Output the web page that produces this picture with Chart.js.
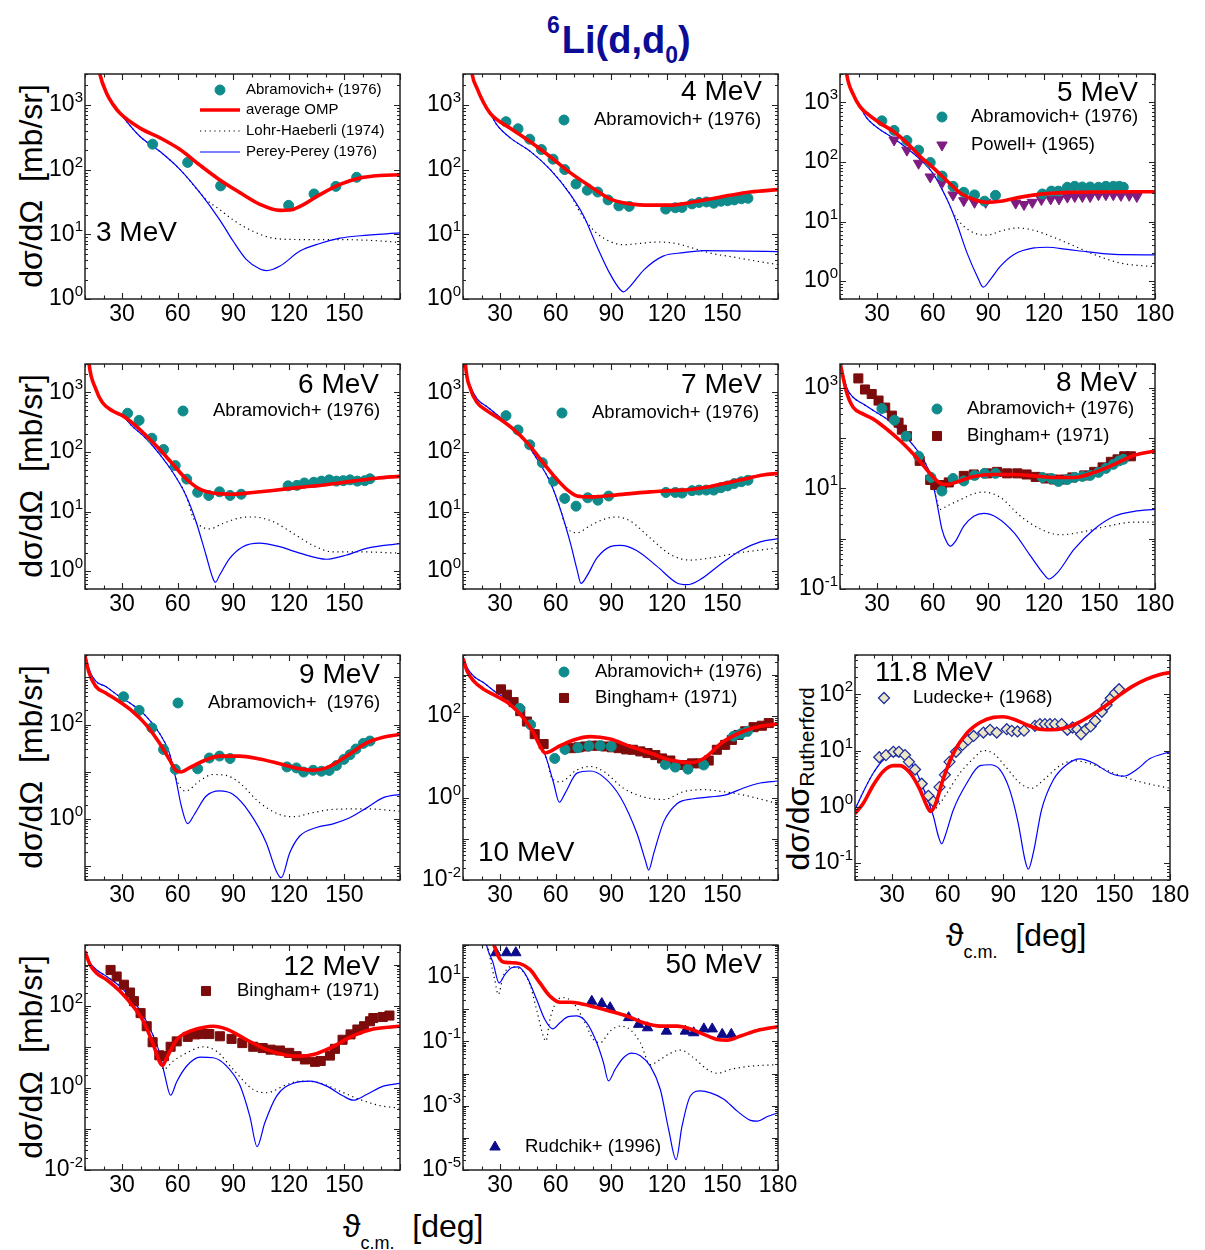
<!DOCTYPE html>
<html>
<head>
<meta charset="utf-8">
<title>6Li(d,d0) elastic scattering</title>
<script src="https://cdn.jsdelivr.net/npm/chart.js@4/dist/chart.umd.min.js"></script>
<style>
  body { margin: 0; background: #fff; }
  #page { position: relative; width: 1205px; height: 1250px; overflow: hidden; font-family: "Liberation Sans", Arial, sans-serif; color: #000; }
  .pane { position: absolute; }
  .title { position: absolute; left: 547px; top: 21px; font-weight: bold; font-size: 38px; line-height: 38px; color: #0c0c96; white-space: nowrap; }
  .title .sup { font-size: 23px; position: relative; top: -20px; margin-right: 2px; }
  .title .sub { font-size: 23px; position: relative; top: 10px; }
  .ytitle { position: absolute; width: 300px; height: 36px; line-height: 36px; font-size: 32px; text-align: center; white-space: pre; transform: rotate(-90deg); }
  .ytitle .sub { font-size: 21px; position: relative; top: 5px; }
  .xtitle { position: absolute; height: 36px; line-height: 36px; font-size: 32px; white-space: pre; }
  .xtitle .sub { font-size: 18px; position: relative; top: 12px; }
</style>
</head>
<body>
<div id="page">
  <div class="title"><span class="sup">6</span>Li(d,d<span class="sub">0</span>)</div>

  <div class="ytitle" style="left:-119px; top:168px">dσ/dΩ  [mb/sr]</div>
  <div class="ytitle" style="left:-119px; top:458px">dσ/dΩ  [mb/sr]</div>
  <div class="ytitle" style="left:-119px; top:749px">dσ/dΩ  [mb/sr]</div>
  <div class="ytitle" style="left:-119px; top:1039px">dσ/dΩ  [mb/sr]</div>
  <div class="ytitle" style="left:648px; top:761px">dσ/dσ<span class="sub">Rutherford</span></div>

  <div class="xtitle" style="left:343px; top:1208px">ϑ<span class="sub">c.m.</span>  [deg]</div>
  <div class="xtitle" style="left:946px; top:917px">ϑ<span class="sub">c.m.</span>  [deg]</div>
</div>

<script>
const FONT = '"Liberation Sans", Arial, sans-serif';
Chart.defaults.font.family = FONT;

// [angle (deg), cross section] pairs per energy

// 3 MeV
const omp3 = [[15,9000],[18,3000],[21.7,1500],[25.3,1000],[28.9,740],[39.7,437],[50.5,309],[61.3,204],[72,117],[82.8,69],[93.6,44],[104.4,29],[115.2,23.4],[120.6,23.7],[126,27],[136.8,41],[147.6,59],[158.4,74],[169,81],[180,83]];
const perey3 = [[15,9000],[18,3000],[21.7,1500],[25.3,1000],[28.9,740],[39.7,324],[50.5,190],[61.3,100],[72,44],[82.8,16.6],[90,7.8],[97,4.1],[104.4,2.9],[108,2.75],[115,3.2],[126,5.5],[136.8,7.2],[147.6,8.7],[158.4,9.5],[180,10.5]];
const lohr3 = [[15,9000],[18,3000],[21.7,1500],[25.3,1000],[28.9,740],[39.7,324],[50.5,190],[61.3,100],[72,44],[75.6,34],[82.8,24],[90,16.6],[101,11],[111.6,8.7],[126,8.3],[144,8.3],[162,8.1],[180,7.5]];
const abram3 = [[46.5,247],[65.4,129],[83.2,56],[119.9,28],[133.6,42],[145.4,55],[156.6,76]];

// 4 MeV
const omp4 = [[13,9000],[14.9,3000],[17.6,1800],[21.2,1070],[24.7,740],[28.3,590],[35.5,437],[46.3,269],[57.1,158],[68,89],[78.7,55],[89.5,35],[100.3,29.5],[111,28.2],[122,28.2],[132.7,31],[143.5,35],[154,40],[165,45],[180,49]];
const perey4 = [[13,9000],[14.9,3000],[17.6,1800],[21.2,1070],[24.7,740],[28.3,490],[35.5,309],[46.3,191],[57.1,100],[68,41],[75.2,19],[82.3,6.5],[89.5,2.4],[94.9,1.39],[96.7,1.29],[100.3,1.58],[107.5,2.8],[118,4.6],[129,5.2],[140,5.6],[161,5.5],[180,5.4]];
const lohr4 = [[13,9000],[14.9,3000],[17.6,1800],[21.2,1070],[24.7,740],[28.3,490],[35.5,309],[46.3,191],[57.1,100],[68,41],[72,25],[76,16.6],[82,10.5],[90,7.6],[97,6.9],[105,7.2],[115,7.6],[125,7.2],[135,6.0],[145,5.0],[155,4.5],[165,4.0],[180,3.4]];
const abram4 = [[33.2,550],[39.7,427],[46,295],[52.3,204],[58.6,145],[64.9,100],[71,60],[77.1,48],[82.7,45],[88.3,34],[94.1,27.5],[99.7,27],[119.4,24.5],[124.6,25.7],[128.2,26],[133.6,29.5],[137.4,31],[141.4,31.6],[145.3,30.2],[149.2,32.4],[152.8,33],[156.4,34],[160.2,35.5],[163.8,36]];

// 5 MeV
const omp5 = [[12,9000],[13.6,3000],[17.2,1350],[20.8,850],[24.4,660],[31.7,447],[38.9,324],[46.1,209],[53.3,123],[60.5,79],[67.8,48],[75,30],[82.2,23.4],[89.4,21],[96.6,21.9],[107.5,25.7],[118.3,28.8],[132.7,30.9],[150.8,31.4],[180,31.6]];
const perey5 = [[12,9000],[13.6,3000],[17.2,1350],[20.8,850],[24.4,550],[31.7,347],[38.9,251],[46.1,170],[53.3,110],[60.5,62],[67.8,23.4],[70.5,15],[73.2,9],[78.6,2.95],[84,1.21],[87.3,0.79],[91.2,1.07],[96.6,1.78],[103.9,2.8],[114.7,3.6],[121.9,3.7],[132.7,3.4],[143.6,3.1],[158,2.8],[180,2.75]];
const lohr5 = [[12,9000],[13.6,3000],[17.2,1350],[20.8,850],[24.4,550],[31.7,347],[38.9,251],[46.1,170],[53.3,110],[60.5,62],[67.8,23.4],[71,14],[75,9.5],[80,7],[85.8,6.0],[89.4,5.9],[96.6,6.9],[105.6,7.8],[114.7,7.1],[125.5,5.4],[136.3,3.9],[147,2.8],[161.6,2.0],[180,1.74]];
const abram5 = [[32.6,490],[39.2,339],[46.1,229],[52.4,158],[58.7,98],[65.1,58],[71,39],[76.8,31],[82.6,28],[88,22],[93.9,27.5],[119.2,29],[124.1,32.4],[127.9,32.4],[132.7,37.6],[136.7,39],[140.8,38],[145,38],[149.5,37.6],[153.5,39],[157.5,39],[160.7,39],[162.9,37.6]];
const powell5 = [[39.2,234],[46.1,158],[52.4,95],[58.7,56],[65.1,45],[71,28],[76.8,22.4],[82.6,21],[88.6,21],[104.8,20.4],[109.3,19.3],[113.8,21],[118.7,23.4],[123.7,24],[128.2,24],[132.7,25.7],[136.7,26.3],[140.8,26.3],[145,26.3],[149.5,28.2],[153.5,28.2],[157.5,28.2],[161.6,27.5],[166.1,27.5],[170.2,26.3]];

// 6 MeV
const omp6 = [[11,9000],[12.2,3000],[15.8,1150],[19.4,676],[24.8,490],[30.2,407],[35.6,309],[42.8,191],[50.1,112],[57.3,63],[64.5,35.5],[71.7,24],[79,20.4],[89.8,19.5],[100.6,20.9],[111.4,22.6],[125.9,25.4],[140.3,28.2],[154.8,32.4],[167.4,36.3],[180,39]];
const perey6 = [[11,9000],[12.2,3000],[15.8,1150],[19.4,676],[24.8,490],[30.2,407],[35.6,269],[42.8,170],[50.1,93],[57.3,46],[64.5,18.6],[69.9,6.8],[75.3,1.86],[79,0.76],[80.4,0.65],[82.6,0.85],[88,1.62],[95.2,2.57],[104.2,2.95],[115,2.57],[125.9,2.0],[140.3,1.58],[151.2,1.86],[162,2.4],[180,2.9]];
const lohr6 = [[11,9000],[12.2,3000],[15.8,1150],[19.4,676],[24.8,490],[30.2,407],[35.6,269],[42.8,170],[50.1,93],[57.3,46],[64.5,18.6],[68.6,7.6],[71.7,5.9],[77.1,5.1],[84.4,6.3],[93.4,7.8],[100.6,8.1],[111.4,6.8],[122.3,4.3],[133.1,2.7],[143.9,2.1],[158.3,2.1],[180,2.0]];
const abram6 = [[33,447],[39.2,339],[46.1,170],[52.4,110],[58.7,59],[64.9,35],[70.8,21],[76.8,18.6],[82.6,21.4],[88.3,18.6],[94.3,19.5],[119.6,27],[124.4,27.5],[128.4,30.2],[133.5,31],[137.6,32.4],[141.8,34],[145.7,32.4],[149.4,33],[153,34],[157,32.4],[161,33],[163.8,35.5]];

// 7 MeV
const omp7 = [[10.5,9000],[11.3,3000],[14,1150],[17.6,676],[23,490],[30.1,355],[37.3,240],[44.5,145],[51.7,76],[58.9,40],[66.1,23.4],[71.5,18.2],[78.7,17.6],[89.5,18.6],[100.3,20],[111,21.4],[121.9,22.4],[132.7,23.4],[143.5,26.3],[154.3,31],[165,37],[172,41],[180,43.7]];
const perey7 = [[10.5,9000],[11.3,3000],[14,1290],[17.6,776],[23,575],[30.1,380],[37.3,240],[44.5,135],[51.7,62],[57.1,31],[62.5,11],[67.9,3.0],[71.5,1.07],[73.7,0.62],[76.9,0.83],[82.3,1.66],[89.5,2.57],[94.9,2.7],[103.9,2.2],[114.7,1.2],[125.5,0.63],[130.9,0.59],[138,0.72],[148.8,1.29],[159.6,2.2],[170.4,3.1],[180,3.5]];
const lohr7 = [[10.5,9000],[11.3,3000],[14,1290],[17.6,776],[23,575],[30.1,380],[37.3,240],[44.5,135],[51.7,62],[57.1,31],[62.5,11],[65,6.1],[71.5,4.4],[78.7,5.8],[85.9,7.4],[93.1,8.1],[100.3,6.9],[111,3.6],[121.9,1.9],[132.7,1.53],[143.5,1.66],[157.8,2.0],[180,2.45]];
const abram7 = [[33.2,407],[39.7,234],[46,132],[52.8,66],[58.9,32.4],[64.9,16.6],[71,12.3],[77.3,17],[82.8,15.5],[88.6,18.2],[119.5,20.9],[124.6,20.9],[128.2,20.4],[133.6,22.4],[137.4,22.9],[141.3,22.9],[145.3,22.9],[149.2,25.1],[152.8,26.9],[156.4,29.5],[160.2,31.6],[163.8,33.5]];

// 8 MeV
const omp8 = [[10,3200],[13.6,813],[17.2,407],[22.6,302],[28,240],[35.3,151],[42.5,89],[49.7,48],[55.1,28.2],[60.5,16.6],[64.2,12.6],[67.8,12],[73.2,13.5],[82.2,17.4],[93.1,19],[103.9,19],[114.7,17.8],[125.5,16.6],[136.4,16.6],[147.2,20.9],[158,30.2],[168.8,45.7],[180,56]];
const perey8 = [[10,3500],[13.6,1020],[17.2,646],[22.6,479],[28,355],[35.3,240],[42.5,141],[49.7,71],[55.1,38],[59.6,15.1],[62.3,5.2],[65,1.55],[67.8,0.83],[69.6,0.71],[72.3,0.89],[76.8,1.78],[82.2,2.8],[87.6,3.2],[94.8,2.63],[103.9,1.32],[112.9,0.45],[120.1,0.195],[122.8,0.158],[127.3,0.21],[136.4,0.62],[147.2,1.55],[158,2.8],[168.8,3.5],[180,3.85]];
const lohr8 = [[10,3500],[13.6,1020],[17.2,646],[22.6,479],[28,355],[35.3,240],[42.5,141],[49.7,71],[55.1,38],[59.6,15.1],[64.2,3.85],[67.8,4.5],[75,6.0],[82.2,7.9],[87.6,8.5],[96.6,6.6],[107.5,2.8],[118.3,1.55],[129.1,1.2],[140,1.35],[154.4,1.78],[168.8,2.14],[180,2.14]];
const abram8 = [[32.6,390],[39.4,229],[45.7,110],[52.4,44],[59.1,16.6],[65,8.9],[71,15.8],[76.8,14.1],[82.6,18.2],[88,20],[93.9,20],[119.2,16.6],[124.1,15.8],[127.9,13.8],[132.7,15.1],[136.7,16.6],[140.8,17.4],[145,18.2],[149.5,20.9],[153.5,25.1],[157.5,30.2],[160.7,35.5],[162.9,38]];
const bingham8 = [[19.9,1550],[23.5,933],[27.1,759],[30.8,562],[34.4,407],[38,282],[41.6,204],[43.4,148],[46.1,110],[53,35.5],[58.7,14.8],[61.4,11.7],[65,11.7],[68.7,13.2],[76.8,17.8],[82.2,19],[89.4,20],[94.8,21.4],[100.2,20],[105.7,20],[110.7,19],[115.6,17],[121,15.8],[125.5,15.1],[130.9,15.1],[135.4,16.6],[141.8,18.2],[147.2,21.4],[151.7,26.3],[156.2,33.9],[159.8,38],[163.4,43.7],[167,43.7]];

// 9 MeV
const omp9 = [[10,2800],[12.2,1260],[15.8,646],[21.2,468],[28.4,309],[35.6,191],[42.9,100],[50.1,41],[55.5,18.2],[59.1,10.6],[61.8,9.8],[66.3,12],[73.5,16.6],[82.6,21.4],[93.4,21.4],[104.2,18.6],[115,14.8],[125.9,11.5],[133.1,10.7],[140.3,12],[151.2,21.4],[162,40.7],[171,53.7],[180,61.7]];
const perey9 = [[10,3500],[12.2,1480],[15.8,832],[21.2,646],[28.4,398],[35.6,263],[42.9,151],[50.1,66],[55.5,25.1],[59.1,6.8],[61.8,2.0],[65.4,0.79],[69,1.23],[75.3,3.0],[82.6,3.9],[89.8,3.3],[98.8,1.35],[107.8,0.31],[113.2,0.078],[115.9,0.056],[120.5,0.19],[125.9,0.43],[134.9,0.65],[143.9,0.78],[152.9,1.05],[162,1.7],[171,2.8],[180,3.3]];
const lohr9 = [[10,3500],[12.2,1480],[15.8,832],[21.2,646],[28.4,398],[35.6,263],[42.9,151],[50.1,66],[55.5,25.1],[58,10],[61.8,4.4],[64.5,3.9],[71.7,6.3],[79,8.7],[86.2,8.3],[93.4,5.8],[104.2,2.2],[115,1.23],[122.3,1.1],[133.1,1.35],[143.9,1.58],[162,1.62],[180,1.45]];
const abram9 = [[30.8,389],[39.2,200],[46.1,85],[52.4,29.5],[58.7,11.2],[70.8,11.5],[77.1,19.5],[82.6,21.4],[88.3,19],[119,12.6],[124.1,12],[128,9.8],[133.1,10.7],[137.6,10.2],[141.8,10.6],[145.7,13.5],[149.7,18.2],[153,22.9],[156.2,30.2],[160.2,39.8],[163.8,44.7]];

// 10 MeV
const omp10 = [[10,2450],[12.2,1230],[15.8,692],[21.2,437],[28.3,295],[35.5,186],[42.7,87],[48.1,38],[51.7,17.8],[54.4,12.3],[57.1,13.5],[62.5,18.6],[69.7,25.7],[78.7,30.9],[89.5,26.9],[100.3,17.8],[111,12.3],[121.9,8.3],[132.7,7.2],[139.9,9.1],[150.6,23.4],[161.4,41.7],[170.4,55],[180,63]];
const perey10 = [[10,2800],[12.2,1480],[15.8,912],[21.2,631],[28.3,355],[35.5,224],[42.7,105],[49.9,34],[55.3,8.3],[58.9,2.3],[62,0.78],[65.2,1.32],[71.5,4.0],[78.7,4.5],[85.9,3.2],[94.9,1.05],[103.9,0.135],[108.4,0.03],[110.2,0.0174],[112.9,0.044],[118.3,0.26],[125.5,0.72],[134.5,0.95],[143.5,1.05],[152.4,1.2],[161.4,1.74],[170.4,2.3],[180,2.57]];
const lohr10 = [[10,2800],[12.2,1480],[15.8,912],[21.2,631],[28.3,355],[35.5,224],[42.7,105],[49.9,34],[55.3,8.3],[58,3.0],[62.5,2.45],[71.5,4.8],[78.7,5.8],[85.9,4.4],[96.7,1.7],[107.5,1.05],[118.3,0.91],[129,1.41],[139.9,1.58],[150.6,1.41],[161.4,1.17],[180,0.72]];
const abram10 = [[40.5,151],[46.5,60],[59.5,9.1],[65,15.1],[72,16.6],[78,18.2],[84,18.6],[90,17.8],[119.2,6.5],[124.6,5.6],[131.4,5.0],[139.9,6.3],[156,31.6],[160,36.3],[163.5,41.7]];
const bingham10 = [[30.5,437],[33.7,324],[37.3,214],[40.9,129],[44.5,72],[48.7,35.5],[53.5,20.4],[68.8,16.2],[72.4,17],[76,17.8],[79.6,18.6],[83.2,18.6],[86.8,17.8],[90.4,17],[94,16.2],[98.1,15.1],[101.7,14.8],[105.7,13.5],[109.6,12.3],[113.8,11],[117.4,9.1],[121.9,8.1],[129.1,6.3],[133.6,6.9],[138,6.9],[142.6,8.1],[147,14.8],[151.5,19.5],[155.1,25.7],[158.7,33.9],[162.3,41.7],[166.8,52.5],[171.3,56.9],[175,66]];

// 11.8 MeV (ratio to Rutherford)
const omp118 = [[10,0.76],[14.5,1.16],[19.9,2.45],[25.3,4.3],[30.7,5.4],[34.3,5.4],[39.7,4.0],[45.1,2.0],[48.7,1.05],[50.8,0.83],[53.2,1.07],[57.7,3.2],[63.1,8.9],[70.3,20.4],[77.5,31.6],[84.7,38.9],[90,39.8],[95.4,36.3],[102.6,28.8],[109.8,24],[117,23.4],[124.2,25.7],[131.4,32.4],[138.6,44.7],[145.8,64.6],[153,97.7],[160.2,141],[167.4,186],[174.6,226],[180,243]];
const perey118 = [[10,0.89],[14.5,1.86],[19.9,4.0],[25.3,6.8],[30.7,8.1],[36.1,7.8],[41.5,5.2],[46.9,2.14],[52.3,0.68],[55,0.3],[56.8,0.22],[58.6,0.3],[63.1,0.89],[70.3,2.63],[77.5,5.4],[82.8,5.6],[88.2,4.6],[93.5,2.0],[98.1,0.51],[101.7,0.115],[103.5,0.078],[106.2,0.15],[110.7,0.89],[117,3.0],[124.2,5.6],[131.4,7.1],[138.6,6.0],[147.6,4.0],[154.8,3.5],[162,4.6],[169.2,7.2],[180,9.5]];
const lohr118 = [[10,0.89],[14.5,1.86],[19.9,4.0],[25.3,6.8],[30.7,8.1],[36.1,7.8],[41.5,5.2],[46.9,2.14],[52.3,0.89],[55.9,1.16],[59.5,1.74],[66.7,4.0],[73.9,7.2],[79.3,10],[84.7,8.9],[91.9,4.9],[99.1,2.63],[105.4,2.14],[111.7,3.0],[120.7,5.4],[127.8,6.6],[138.6,5.6],[149.4,4.0],[160.2,3.0],[171,2.45],[180,2.14]];
const ludecke118 = [[23.1,7.6],[26.7,8.3],[30.7,9.5],[33.7,9.5],[37,8.3],[39.1,6.3],[42.4,4.6],[46,2.57],[49.6,1.57],[52.3,1.24],[55.6,2.24],[58.5,3.7],[61,6.3],[64.5,9.5],[68,12.6],[71,15.5],[74,18.2],[79.3,20.9],[82.9,23.4],[86.5,20.9],[91.9,24],[94.6,22.4],[97.7,21.9],[101.2,22.6],[107.1,27.5],[109.8,29.5],[112.5,29.5],[115.2,29.5],[117.9,29.5],[121.5,29.5],[124.6,23.4],[127.4,25.7],[130,24],[132,19.5],[134.7,24],[137.2,26.9],[139.6,33.9],[143.2,49],[145.8,64.6],[148,85],[150.3,105],[152.5,123]];

// 12 MeV
const omp12 = [[10,2090],[12.7,1000],[16.3,617],[21.7,427],[28.9,224],[36.1,95],[41.5,41.7],[46.9,11.2],[50.5,4.1],[51.9,3.5],[54.1,5.4],[59.5,14.8],[66.7,24],[73.8,29.5],[79.2,31.6],[86.4,26.9],[97.2,14.8],[108,8.5],[118.8,6.2],[126,5.9],[133.2,6.5],[144,10.2],[154.8,18.6],[165.6,26.9],[180,31.6]];
const perey12 = [[10,2090],[12.7,1100],[16.3,741],[21.7,513],[28.9,295],[36.1,129],[41.5,57.5],[46.9,18.2],[50.5,6.5],[53.2,1.9],[56.2,0.66],[59.5,1.41],[64.9,3.4],[72.1,5.6],[79.2,5.4],[86.4,3.4],[93.6,1.15],[99,0.2],[102.9,0.037],[107,0.14],[113.4,0.63],[122.4,1.29],[131.4,1.45],[140.4,1.1],[149.4,0.63],[154.8,0.5],[162,0.69],[171,1.1],[180,1.29]];
const lohr12 = [[10,2090],[12.7,1100],[16.3,741],[21.7,513],[28.9,295],[36.1,129],[41.5,57.5],[46.9,18.2],[50.5,6.5],[52.3,2.8],[57.7,4.5],[64.9,7.1],[73.8,10],[81,7.8],[90,2.8],[100.8,0.91],[108,0.76],[118.8,1.2],[126,1.45],[136.8,1.32],[147.6,0.83],[158.4,0.52],[169.2,0.37],[180,0.32]];
const bingham12 = [[23.8,741],[27.1,513],[31,324],[34.3,209],[36.4,129],[40,66],[43.3,31.6],[46.5,12.9],[50.1,6.2],[52.6,5.9],[56.2,10],[59.5,13.5],[65.4,17.4],[69.4,20],[73,20.4],[77.1,20.4],[82.8,18],[89.1,15.5],[94.9,12.3],[100.8,10],[105.9,9.3],[110.2,8.5],[115.2,8.1],[120.2,7.1],[124.2,5.9],[128.7,4.9],[134.1,4.3],[137.2,4.5],[142.2,6.1],[144.9,8.9],[149,14.8],[153.3,20],[157,26.3],[160.6,31.6],[163.8,41.7],[165.6,50],[170.7,53],[174.3,57.5]];

// 50 MeV
const omp50 = [[24,300],[26.6,105],[29,45],[31.7,29.5],[35.3,28.2],[40.7,26.3],[46.1,17.4],[51.5,6.6],[56.9,2.57],[62.3,1.66],[67.8,1.66],[73.2,1.51],[80.4,1.2],[89.4,0.87],[98.4,0.62],[107.5,0.38],[116.5,0.30],[125.5,0.30],[132.7,0.245],[140,0.166],[147.2,0.115],[152.6,0.11],[159.8,0.148],[168.8,0.219],[180,0.288]];
const perey50 = [[20,1000],[22.6,105],[26.2,28.2],[29.5,6.6],[32.6,12],[36.2,19.5],[39.8,20.9],[44.3,10.7],[49.7,2.04],[54.2,0.48],[58.4,0.245],[62.3,0.38],[66.8,0.59],[71.4,0.62],[76.8,0.38],[82.2,0.091],[85.8,0.022],[88.5,0.0059],[92.1,0.0135],[96.6,0.031],[101.1,0.043],[105.7,0.036],[111.1,0.017],[116.5,0.0032],[121,0.00018],[125,0.000021],[128.2,0.00023],[132.7,0.002],[138.2,0.0029],[143.6,0.0025],[150.8,0.0016],[158,0.00068],[165.2,0.00035],[168.8,0.00033],[174.3,0.00046],[180,0.0006]];
const lohr50 = [[22,300],[24.4,45],[27.1,8.5],[29,2.9],[31.7,10.7],[35.3,20.9],[40.7,18.2],[46.1,5.9],[49.7,0.98],[53.3,0.148],[54.7,0.102],[56.9,0.48],[60.5,1.78],[64.1,2.3],[69.5,1.58],[75,0.48],[80.4,0.115],[84,0.091],[89.4,0.21],[94.8,0.30],[100.2,0.234],[105.7,0.091],[111.1,0.019],[116.5,0.0275],[121.9,0.043],[127.3,0.054],[134.5,0.031],[141.8,0.0135],[147.2,0.0102],[154.4,0.0135],[165.2,0.017],[180,0.019]];
const rudchik50 = [[27.7,57.5],[33.5,57.5],[38.5,57.5],[79.5,1.78],[84.9,1.51],[89.4,1.12],[99.4,0.55],[104.8,0.34],[109.6,0.266],[119.8,0.209],[130,0.209],[134.5,0.186],[140,0.245],[144.5,0.245],[149.9,0.166],[154.8,0.166]];

// ---- layout and styling ----
const PLOT_W = 315, PLOT_H = 225;
const PAD_L = 70, PAD_T = 30, PAD_R = 22, PAD_B = 45;

const markerStyles = {
  abram:   { style: 'circle',   radius: 5,   rotation: 0,   fill: '#108b8b', stroke: '#108b8b', width: 1 },
  bingham: { style: 'rect',     radius: 6.4, rotation: 0,   fill: '#7c0c0c', stroke: '#7c0c0c', width: 1 },
  powell:  { style: 'triangle', radius: 6,   rotation: 180, fill: '#7e1c82', stroke: '#7e1c82', width: 1 },
  ludecke: { style: 'rectRot',  radius: 5.5, rotation: 0,   fill: '#ece6c6', stroke: '#1f2f9f', width: 1.3 },
  rudchik: { style: 'triangle', radius: 6,   rotation: 0,   fill: '#0c0c8a', stroke: '#0c0c8a', width: 1 }
};
const lineStyles = {
  omp:   { color: '#ff0000', width: 3.6, dash: [] },
  lohr:  { color: '#000000', width: 1.2, dash: [1.2, 3.6] },
  perey: { color: '#0000ff', width: 1.2, dash: [] }
};

const ABR = 'Abramovich+ (1976)', BIN = 'Bingham+ (1971)';

const panels = [
  { left: 85, top: 74, ymin: 1, ymax: 3000, yExp: [0, 1, 2, 3], x180: false,
    omp: omp3, lohr: lohr3, perey: perey3, sets: [['abram', abram3]],
    energy: { text: '3 MeV', x: 11, y: 159, align: 'left' }, legendFont: 15,
    legend: [
      { kind: 'abram', mx: 135, tx: 161, y: 16, text: ABR },
      { kind: 'omp', x1: 115, x2: 155, tx: 161, y: 36, text: 'average OMP' },
      { kind: 'lohr', x1: 115, x2: 155, tx: 161, y: 57, text: 'Lohr-Haeberli (1974)' },
      { kind: 'perey', x1: 115, x2: 155, tx: 161, y: 78, text: 'Perey-Perey (1976)' }
    ] },
  { left: 463, top: 74, ymin: 1, ymax: 3000, yExp: [0, 1, 2, 3], x180: false,
    omp: omp4, lohr: lohr4, perey: perey4, sets: [['abram', abram4]],
    energy: { text: '4 MeV', x: 299, y: 18, align: 'right' }, legendFont: 18.5,
    legend: [{ kind: 'abram', mx: 101, tx: 131, y: 46, text: ABR }] },
  { left: 840, top: 74, ymin: 0.5, ymax: 3000, yExp: [0, 1, 2, 3], x180: true,
    omp: omp5, lohr: lohr5, perey: perey5, sets: [['abram', abram5], ['powell', powell5]],
    energy: { text: '5 MeV', x: 298, y: 19, align: 'right' }, legendFont: 18.5,
    legend: [
      { kind: 'abram', mx: 102, tx: 131, y: 43, text: ABR },
      { kind: 'powell', mx: 102, tx: 131, y: 71, text: 'Powell+ (1965)' }
    ] },
  { left: 85, top: 364, ymin: 0.5, ymax: 3000, yExp: [0, 1, 2, 3], x180: false,
    omp: omp6, lohr: lohr6, perey: perey6, sets: [['abram', abram6]],
    energy: { text: '6 MeV', x: 294, y: 21, align: 'right' }, legendFont: 18.5,
    legend: [{ kind: 'abram', mx: 98, tx: 128, y: 47, text: ABR }] },
  { left: 463, top: 364, ymin: 0.5, ymax: 3000, yExp: [0, 1, 2, 3], x180: false,
    omp: omp7, lohr: lohr7, perey: perey7, sets: [['abram', abram7]],
    energy: { text: '7 MeV', x: 299, y: 21, align: 'right' }, legendFont: 18.5,
    legend: [{ kind: 'abram', mx: 99, tx: 129, y: 49, text: ABR }] },
  { left: 840, top: 364, ymin: 0.1, ymax: 3000, yExp: [-1, 1, 3], x180: true,
    omp: omp8, lohr: lohr8, perey: perey8, sets: [['abram', abram8], ['bingham', bingham8]],
    energy: { text: '8 MeV', x: 297, y: 19, align: 'right' }, legendFont: 18.5,
    legend: [
      { kind: 'abram', mx: 97, tx: 127, y: 45, text: ABR },
      { kind: 'bingham', mx: 97, tx: 127, y: 72, text: BIN }
    ] },
  { left: 85, top: 655, ymin: 0.05, ymax: 3000, yExp: [0, 2], x180: false,
    omp: omp9, lohr: lohr9, perey: perey9, sets: [['abram', abram9]],
    energy: { text: '9 MeV', x: 295, y: 20, align: 'right' }, legendFont: 18.5,
    legend: [{ kind: 'abram', mx: 93, tx: 123, y: 48, text: 'Abramovich+  (1976)' }] },
  { left: 463, top: 655, ymin: 0.01, ymax: 3000, yExp: [-2, 0, 2], x180: false,
    omp: omp10, lohr: lohr10, perey: perey10, sets: [['abram', abram10], ['bingham', bingham10]],
    energy: { text: '10 MeV', x: 15, y: 198, align: 'left' }, legendFont: 18.5,
    legend: [
      { kind: 'abram', mx: 101, tx: 132, y: 17, text: ABR },
      { kind: 'bingham', mx: 101, tx: 132, y: 43, text: BIN }
    ] },
  { left: 855, top: 655, ymin: 0.05, ymax: 500, yExp: [-1, 0, 1, 2], x180: true,
    omp: omp118, lohr: lohr118, perey: perey118, sets: [['ludecke', ludecke118]],
    energy: { text: '11.8 MeV', x: 20, y: 18, align: 'left' }, legendFont: 18.5,
    legend: [{ kind: 'ludecke', mx: 29, tx: 58, y: 43, text: 'Ludecke+ (1968)' }] },
  { left: 85, top: 945, ymin: 0.01, ymax: 3000, yExp: [-2, 0, 2], x180: false,
    omp: omp12, lohr: lohr12, perey: perey12, sets: [['bingham', bingham12]],
    energy: { text: '12 MeV', x: 295, y: 22, align: 'right' }, legendFont: 18.5,
    legend: [{ kind: 'bingham', mx: 121, tx: 152, y: 46, text: BIN }] },
  { left: 463, top: 945, ymin: 1e-5, ymax: 100, yExp: [-5, -3, -1, 1], x180: true,
    omp: omp50, lohr: lohr50, perey: perey50, sets: [['rudchik', rudchik50]],
    energy: { text: '50 MeV', x: 299, y: 20, align: 'right' }, legendFont: 18.5,
    legend: [{ kind: 'rudchik', mx: 32, tx: 62, y: 202, text: 'Rudchik+ (1996)' }] }
];

function xy(arr) { return arr.map(([x, y]) => ({ x, y })); }

function curveDataset(arr, kind) {
  const s = lineStyles[kind];
  return {
    data: xy(arr), borderColor: s.color, borderWidth: s.width, borderDash: s.dash,
    pointRadius: 0, fill: false, cubicInterpolationMode: 'monotone'
  };
}

function pointDataset(arr, kind) {
  const m = markerStyles[kind];
  return {
    data: xy(arr), showLine: false, pointStyle: m.style, pointRadius: m.radius,
    pointRotation: m.rotation, pointBackgroundColor: m.fill,
    pointBorderColor: m.stroke, pointBorderWidth: m.width
  };
}

// legend symbol, same geometry as the chart's point styles
function drawMarker(ctx, kind, x, y) {
  const m = markerStyles[kind];
  const r = m.radius;
  ctx.save();
  ctx.fillStyle = m.fill;
  ctx.strokeStyle = m.stroke;
  ctx.lineWidth = m.width;
  ctx.beginPath();
  if (m.style === 'circle') {
    ctx.arc(x, y, r, 0, Math.PI * 2);
  } else if (m.style === 'rect') {
    const h = r * Math.SQRT1_2;
    ctx.rect(x - h, y - h, 2 * h, 2 * h);
  } else if (m.style === 'rectRot') {
    ctx.moveTo(x - r, y); ctx.lineTo(x, y - r); ctx.lineTo(x + r, y); ctx.lineTo(x, y + r);
    ctx.closePath();
  } else {
    let t = m.rotation * Math.PI / 180;
    for (let i = 0; i < 3; i++) {
      const px = x + Math.sin(t) * r, py = y - Math.cos(t) * r;
      if (i) ctx.lineTo(px, py); else ctx.moveTo(px, py);
      t += Math.PI * 2 / 3;
    }
    ctx.closePath();
  }
  ctx.fill();
  ctx.stroke();
  ctx.restore();
}

function decor(p) {
  return {
    id: 'decor',
    afterDraw(chart) {
      const { ctx, chartArea: a } = chart;
      const x = chart.scales.x, y = chart.scales.y;
      ctx.save();

      // inward ticks on all four sides
      ctx.strokeStyle = '#222';
      ctx.lineWidth = 1.1;
      ctx.beginPath();
      for (let d = 10; d <= 180; d += 10) {
        const px = Math.round(x.getPixelForValue(d)) + 0.5;
        const len = d % 30 === 0 ? 6 : 3.5;
        ctx.moveTo(px, a.bottom); ctx.lineTo(px, a.bottom - len);
        ctx.moveTo(px, a.top); ctx.lineTo(px, a.top + len);
      }
      const lo = Math.floor(Math.log10(p.ymin)), hi = Math.ceil(Math.log10(p.ymax));
      for (let e = lo; e <= hi; e++) {
        for (let k = 1; k <= 9; k++) {
          const v = k * Math.pow(10, e);
          if (v < p.ymin || v > p.ymax) continue;
          const py = Math.round(y.getPixelForValue(v)) + 0.5;
          const len = k === 1 ? 6 : 3;
          ctx.moveTo(a.left, py); ctx.lineTo(a.left + len, py);
          ctx.moveTo(a.right, py); ctx.lineTo(a.right - len, py);
        }
      }
      ctx.stroke();

      // frame
      ctx.lineWidth = 1.5;
      ctx.strokeRect(a.left, a.top, a.right - a.left, a.bottom - a.top);

      // decade labels 10^n
      ctx.fillStyle = '#000';
      p.yExp.forEach(e => {
        const py = y.getPixelForValue(Math.pow(10, e));
        const exp = String(e);
        ctx.font = '15px ' + FONT;
        const ew = ctx.measureText(exp).width;
        ctx.font = '23px ' + FONT;
        const bw = ctx.measureText('10').width;
        const right = a.left - 2;
        ctx.textAlign = 'left';
        ctx.textBaseline = 'middle';
        ctx.fillText('10', right - ew - bw, py);
        ctx.font = '15px ' + FONT;
        ctx.textBaseline = 'alphabetic';
        ctx.fillText(exp, right - ew, py - 3);
      });

      // energy tag
      ctx.font = '28px ' + FONT;
      ctx.textBaseline = 'middle';
      ctx.textAlign = p.energy.align;
      ctx.fillText(p.energy.text, a.left + p.energy.x, a.top + p.energy.y);

      // legend
      ctx.textAlign = 'left';
      p.legend.forEach(it => {
        const ly = a.top + it.y;
        if (markerStyles[it.kind]) {
          drawMarker(ctx, it.kind, a.left + it.mx, ly);
        } else {
          const s = lineStyles[it.kind];
          ctx.save();
          ctx.strokeStyle = s.color;
          ctx.lineWidth = s.width;
          ctx.setLineDash(s.dash);
          ctx.beginPath();
          ctx.moveTo(a.left + it.x1, ly);
          ctx.lineTo(a.left + it.x2, ly);
          ctx.stroke();
          ctx.restore();
        }
        ctx.fillStyle = '#000';
        ctx.font = p.legendFont + 'px ' + FONT;
        ctx.textBaseline = 'middle';
        ctx.fillText(it.text, a.left + it.tx, ly);
      });
      ctx.restore();
    }
  };
}

function buildPanel(p) {
  const wrap = document.createElement('div');
  wrap.className = 'pane';
  wrap.style.left = (p.left - PAD_L) + 'px';
  wrap.style.top = (p.top - PAD_T) + 'px';
  const canvas = document.createElement('canvas');
  const w = PAD_L + PLOT_W + PAD_R, h = PAD_T + PLOT_H + PAD_B;
  canvas.width = w;
  canvas.height = h;
  canvas.style.width = w + 'px';
  canvas.style.height = h + 'px';
  wrap.appendChild(canvas);
  document.getElementById('page').appendChild(wrap);

  // first dataset is painted last, so the fit sits on top
  const datasets = [curveDataset(p.omp, 'omp')];
  p.sets.forEach(([kind, arr]) => datasets.push(pointDataset(arr, kind)));
  datasets.push(curveDataset(p.perey, 'perey'));
  datasets.push(curveDataset(p.lohr, 'lohr'));

  const shown = p.x180 ? [30, 60, 90, 120, 150, 180] : [30, 60, 90, 120, 150];

  new Chart(canvas, {
    type: 'line',
    data: { datasets },
    options: {
      responsive: false,
      animation: false,
      devicePixelRatio: 1,
      events: [],
      layout: { padding: { left: PAD_L, top: PAD_T, right: PAD_R, bottom: 0 } },
      plugins: { legend: { display: false }, tooltip: { enabled: false } },
      scales: {
        x: {
          type: 'linear', min: 10, max: 180,
          grid: { display: false, drawTicks: false },
          border: { display: false },
          ticks: {
            stepSize: 10, autoSkip: false, maxRotation: 0, padding: 2,
            color: '#000', font: { size: 23 },
            callback: v => shown.includes(v) ? String(v) : ''
          },
          afterFit: s => { s.height = PAD_B; }
        },
        y: { type: 'logarithmic', min: p.ymin, max: p.ymax, display: false }
      }
    },
    plugins: [decor(p)]
  });
}

panels.forEach(buildPanel);
</script>
</body>
</html>
